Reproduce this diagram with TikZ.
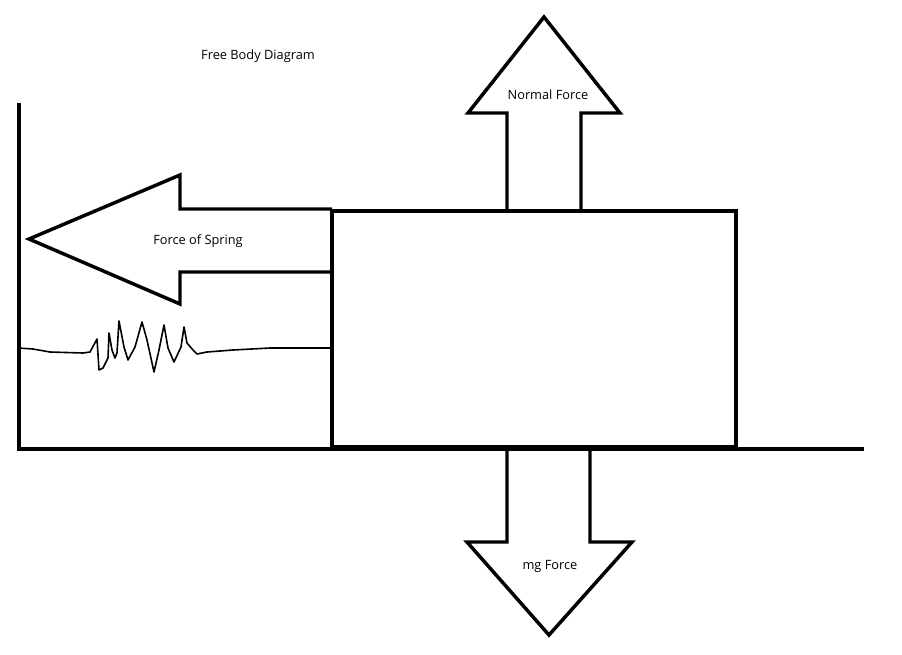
\documentclass[tikz,border=0pt]{standalone}
\usepackage{fontspec}
\setmainfont{Open Sans}
\usetikzlibrary{positioning}
\tikzset{
thick line/.style={line width=2.6pt, line join=miter},
label text/.style={font=\fontsize{9.6}{11}\selectfont, inner sep=0pt}
}
\begin{document}
\begin{tikzpicture}[x=0.75pt,y=-0.75pt]
\useasboundingbox (0,0) rectangle (902,654);
\coordinate (wall) at (19,103);
\coordinate (floor) at (19,449);
\coordinate (floorend) at (864,449);
\draw[thick line] (wall)--(floor)--(floorend);
% block
\draw[thick line] (332,211) rectangle (736,447);
% force of spring
\draw[thick line] (332,209)--(180,209)--(180,175)--(29,239)--(180,304)--(180,272)--(332,272);
% normal force
\draw[thick line] (507,211)--(507,113)--(468,113)--(544,17)--(620,113)--(581,113)--(581,211);
% mg force
\draw[thick line] (507,449)--(507,542)--(467,542)--(549,635)--(632,542)--(590,542)--(590,449);
% spring
\draw[line width=1.2pt, line join=round] (18,348)--(33,349)--(50,352)--(83,353)--(90,352)--(97,339)--(99,370)--(103,368)--(108,358)--(109,333)--(112,350)--(115,358)--(117,353)--(119,321)--(124,347)--(128,360)--(135,347)--(142,322)--(147,340)--(154,372)--(159,350)--(164,325)--(168,348)--(174,362)--(181,347)--(184,327)--(187,343)--(193,350)--(197,354)--(207,352)--(233,350)--(270,348)--(333,348);
\node[label text] (title) at (258,56) {Free Body Diagram};
\node[label text] (spring) at (198,241) {Force of Spring};
\node[label text] (normal) at (548,95) {Normal Force};
\node[label text] (mg) at (550,566) {mg Force};
\end{tikzpicture}
\end{document}
